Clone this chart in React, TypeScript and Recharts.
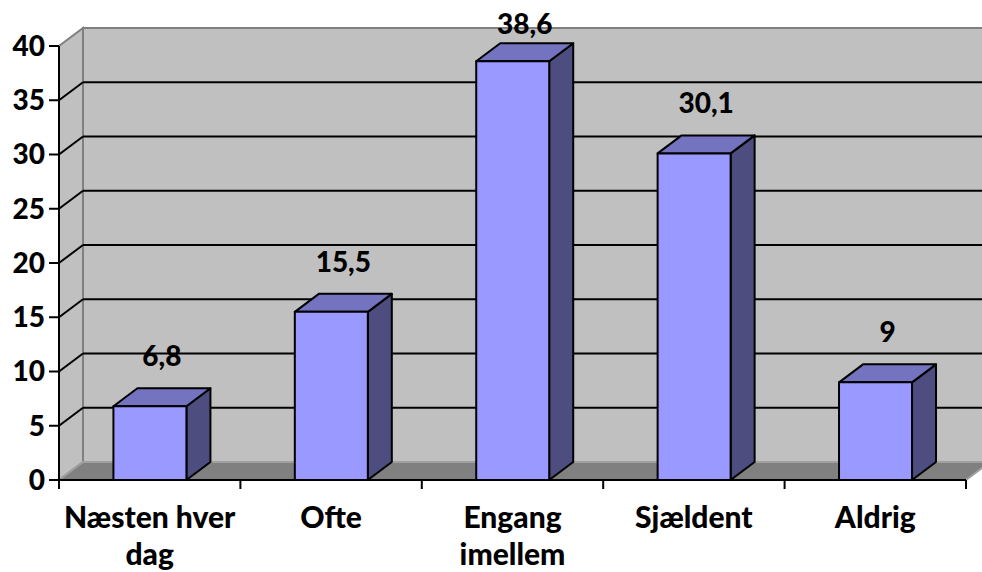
import { BarChart, Bar, XAxis, YAxis, ReferenceArea, LabelList } from "recharts";

const categories = ["Næsten hver\ndag", "Ofte", "Engang\nimellem", "Sjældent", "Aldrig"];
const shares = [6.8, 15.5, 38.6, 30.1, 9];
const yTicks = [0, 5, 10, 15, 20, 25, 30, 35, 40];

const data = categories.map((name, i) => ({ name, value: shares[i] }));

// depth of the fake 3D box
const DX = 24;
const DY = 18;
const FONT = "Lato, 'Open Sans', sans-serif";

const fmt = (v: number) => String(v).replace(".", ",");

// back wall, side wall, floor, gridlines and category boundary ticks
function Walls(props: any) {
  const { x, y, width, height } = props;
  const bottom = y + height;
  const right = x + width;
  const max = yTicks[yTicks.length - 1];
  const rowY = (v: number) => bottom - (v / max) * height;
  const n = categories.length;
  return (
    <g>
      <rect x={x + DX} y={y - DY} width={width + 20} height={height} fill="#c0c0c0" stroke="#808080" strokeWidth={2} />
      <polygon
        points={`${x},${bottom} ${x},${y} ${x + DX},${y - DY} ${x + DX},${bottom - DY}`}
        fill="#c0c0c0"
        stroke="#808080"
        strokeWidth={2}
      />
      {yTicks
        .filter((v) => v > 0 && v < max)
        .map((v) => {
          const py = rowY(v);
          return (
            <g key={v} stroke="#000" strokeWidth={2}>
              <line x1={x} y1={py} x2={x + DX} y2={py - DY} />
              <line x1={x + DX} y1={py - DY} x2={right + DX + 20} y2={py - DY} />
            </g>
          );
        })}
      <polygon
        points={`${x},${bottom} ${right},${bottom} ${right + DX},${bottom - DY} ${x + DX},${bottom - DY}`}
        fill="#808080"
        stroke="#a0a0a0"
        strokeWidth={2}
      />
      {Array.from({ length: n + 1 }, (_, i) => {
        const tx = x + (i * width) / n;
        return <line key={i} x1={tx} y1={bottom} x2={tx} y2={bottom + 9} stroke="#000" strokeWidth={2} />;
      })}
    </g>
  );
}

function Box(props: any) {
  const { x, y, width, height } = props;
  const r = x + width;
  const b = y + height;
  return (
    <g stroke="#000" strokeWidth={2} strokeLinejoin="round">
      <polygon points={`${r},${y} ${r + DX},${y - DY} ${r + DX},${b - DY} ${r},${b}`} fill="#4d4d80" />
      <polygon points={`${x},${y} ${x + DX},${y - DY} ${r + DX},${y - DY} ${r},${y}`} fill="#7373bf" />
      <rect x={x} y={y} width={width} height={height} fill="#9999ff" />
    </g>
  );
}

function ValueLabel(props: any) {
  const { x, y, width, value } = props;
  // keep the tallest label from running off the top
  const ty = Math.max(y - DY - 22, 34);
  return (
    <text
      x={x + width / 2 + DX / 2}
      y={ty}
      textAnchor="middle"
      fontFamily={FONT}
      fontWeight={900}
      fontSize={28}
      fill="#000"
    >
      {fmt(value)}
    </text>
  );
}

function CategoryTick(props: any) {
  const { x, y, payload } = props;
  const lines = String(payload.value).split("\n");
  return (
    <text x={x} y={y} textAnchor="middle" fontFamily={FONT} fontWeight={900} fontSize={30} fill="#000">
      {lines.map((l, i) => (
        <tspan key={i} x={x} y={y + 40 + i * 37}>
          {l}
        </tspan>
      ))}
    </text>
  );
}

export default function App() {
  return (
    <div style={{ position: "absolute", left: 0, top: 0, background: "#fff" }}>
      <BarChart
        width={982}
        height={572}
        data={data}
        margin={{ top: 46, right: 16, bottom: 0, left: 0 }}
        barCategoryGap="30%"
      >
        <ReferenceArea y1={0} y2={40} shape={<Walls />} />
        <XAxis
          dataKey="name"
          height={92}
          tickLine={false}
          axisLine={{ stroke: "#000", strokeWidth: 2 }}
          tick={<CategoryTick />}
          interval={0}
        />
        <YAxis
          width={59}
          domain={[0, 40]}
          ticks={yTicks}
          tickSize={10}
          tickMargin={4}
          axisLine={{ stroke: "#000", strokeWidth: 2 }}
          tickLine={{ stroke: "#000", strokeWidth: 2 }}
          tick={{ fill: "#000", fontSize: 28, fontWeight: 900, fontFamily: FONT }}
        />
        <Bar dataKey="value" shape={<Box />} isAnimationActive={false}>
          <LabelList dataKey="value" content={<ValueLabel />} />
        </Bar>
      </BarChart>
    </div>
  );
}
